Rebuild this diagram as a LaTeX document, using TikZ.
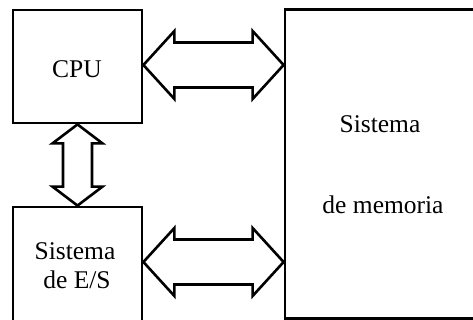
\documentclass[tikz,border=0pt]{standalone}
\usepackage{fontspec}
\setmainfont{Liberation Serif}
\usetikzlibrary{calc}
\tikzset{
  blk/.style={draw, line width=2.8pt, inner sep=0pt},
  lbl/.style={font=\fontsize{25.5}{29}\selectfont, inner sep=0pt, anchor=base},
  fatarrow/.style={draw, line width=2.6pt, line join=miter, fill=white}
}
\begin{document}
\begin{tikzpicture}[x=1pt, y=-1pt]
\useasboundingbox (0,0) rectangle (473,320);
% blocks
\node[blk, minimum width=129pt, minimum height=113pt] (cpu) at (77.5,66.5) {};
\node[blk, minimum width=129pt, minimum height=116pt] (es) at (77.5,265) {};
\node[blk, minimum width=193pt, minimum height=309pt] (mem) at (381.5,164) {};
% labels
\node[lbl] (tcpu) at (77,78) {CPU};
\node[lbl] (tes1) at (75,259) {Sistema};
\node[lbl] (tes2) at (77,288) {de E/S};
\node[lbl] (tm1) at (380,133) {Sistema};
\node[lbl] (tm2) at (383,213) {de memoria};
% connector end points
\coordinate (a1) at (cpu.east |- 0,65);
\coordinate (a2) at (mem.west |- 0,65);
\coordinate (b1) at (es.east |- 0,262);
\coordinate (b2) at (mem.west |- 0,262);
\coordinate (c1) at (cpu.south);
\coordinate (c2) at (es.north);
% horizontal double arrows
\foreach \p/\q in {a1/a2, b1/b2}{
  \draw[fatarrow] (\p)
    -- ($(\p)+(31,-34)$) -- ($(\p)+(31,-22.5)$)
    -- ($(\q)+(-31,-22.5)$) -- ($(\q)+(-31,-34)$)
    -- (\q)
    -- ($(\q)+(-31,34)$) -- ($(\q)+(-31,22.5)$)
    -- ($(\p)+(31,22.5)$) -- ($(\p)+(31,34)$) -- cycle;
}
% vertical double arrow
\draw[fatarrow] (c1)
  -- ($(c1)+(25,19)$) -- ($(c1)+(14.5,19)$)
  -- ($(c2)+(14.5,-19)$) -- ($(c2)+(25,-19)$)
  -- (c2)
  -- ($(c2)+(-25,-19)$) -- ($(c2)+(-14.5,-19)$)
  -- ($(c1)+(-14.5,19)$) -- ($(c1)+(-25,19)$) -- cycle;
\end{tikzpicture}
\end{document}
